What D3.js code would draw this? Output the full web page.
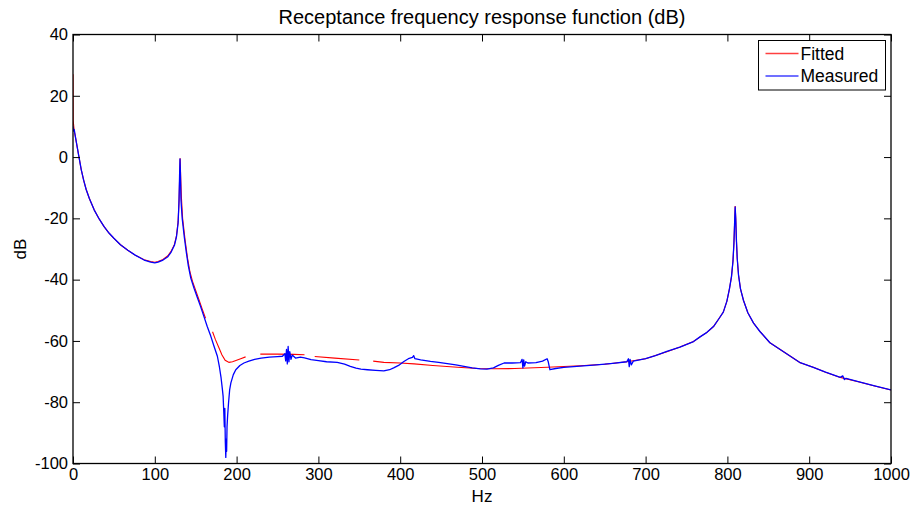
<!DOCTYPE html>
<html>
<head>
<meta charset="utf-8">
<script src="https://cdn.jsdelivr.net/npm/d3@7"></script>
<style>
  body { margin: 0; background: #fff; }
  text { font-family: "Liberation Sans", Arial, Helvetica, sans-serif; fill: #000; }
</style>
</head>
<body>
<div id="container"></div>
<script>
/**
 * CONSTANTS AND GLOBALS
 * */
const width = 912,
  height = 509,
  margin = {top: 34.5, bottom: 45.5, left: 73, right: 21};

const xTicks = [0, 100, 200, 300, 400, 500, 600, 700, 800, 900, 1000];
const yTicks = [-100, -80, -60, -40, -20, 0, 20, 40];
const seriesNames = ["Fitted", "Measured"];
const seriesColors = ["#ff0000", "#0000ff"];
const legendColors = ["#ff4040", "#4040ff"];

// measured FRF (Hz, dB)
const measHz = [0, 0.5, 1.5, 3, 5, 7, 10, 13, 16, 20, 26, 32, 38, 44, 50, 58, 67, 76, 87, 95,
  100, 104, 110, 116, 120, 124, 126.5, 128.5, 129.5, 130.3, 130.8, 131.3, 132, 133.5, 136, 138.5,
  141, 144, 148, 152, 156, 160, 164, 168.5, 172.5, 176.5, 179, 181, 182.5, 183.5, 184.3, 185,
  185.6, 186.2, 186.8, 187.3, 187.8, 188.3, 189, 190.2, 191.5, 193, 196, 199, 204, 209, 215,
  222, 230, 240, 250, 256, 259, 260, 261, 262, 263, 264, 265, 266.5, 268, 272, 278, 283, 291,
  300, 310, 323, 332, 339, 346, 352, 360, 370, 380, 387, 392, 398, 404.5, 410, 415, 416.5, 418,
  425, 437, 447, 457.5, 468, 478, 488, 498, 506, 514, 520, 527, 537, 547, 549, 550, 551, 552,
  553.5, 556, 566, 574, 579.6, 581, 583, 590, 600, 620, 640, 660, 677, 679, 680, 681, 682.5,
  685, 700, 712, 726, 742, 758.6, 767, 775, 783, 790, 795, 799.4, 802.5, 805, 806.8, 808, 809,
  809.5, 810.2, 811, 812, 813.6, 816, 819.7, 825, 832, 840, 852, 864.5, 877, 889, 905, 920,
  938, 941, 943, 945, 960, 980, 1000];
const measDb = [10, 8.5, 9, 6.5, 3.5, 0.5, -4, -7.5, -10.5, -13.5, -17.3, -20.2, -22.7, -24.8,
  -26.5, -28.6, -30.4, -32, -33.6, -34.3, -34.5, -34.3, -33.6, -32.5, -31, -28.8, -26, -21.5,
  -15, -6, -0.6, -5, -14, -20, -26, -31, -35.5, -39.5, -42.8, -45.8, -48.8, -52, -55.2, -58.5,
  -61.8, -65, -68.5, -72, -75.5, -78, -83, -88, -82, -93, -98, -92, -96, -88, -84.5, -80, -76,
  -73.7, -71, -69.4, -68, -67.2, -66.6, -66, -65.6, -65.3, -65.1, -65, -64.2, -66.5, -62.8,
  -67.5, -61.8, -66.8, -63.5, -66, -64.6, -65.6, -65.3, -65.5, -66.1, -66.4, -66.8, -67, -67.6,
  -68.3, -68.9, -69.2, -69.4, -69.6, -69.8, -69.4, -68.8, -68, -66.7, -65.8, -65.4, -64.8,
  -65.8, -66.2, -66.7, -67, -67.4, -67.8, -68.3, -68.8, -69.1, -69.2, -68.8, -68, -67.2, -67.2,
  -67.1, -66, -68.8, -66.2, -68.2, -66.8, -67.2, -67.1, -66.6, -65.8, -66.8, -69.4, -69, -68.6,
  -68.2, -67.8, -67.3, -66.8, -65.8, -68.4, -66, -67.8, -66.6, -65.8, -64.8, -63.4, -62, -60.2,
  -58.6, -57.2, -55.3, -52.6, -50.6, -47, -43, -39, -34, -28, -20, -16.3, -20, -27, -33, -38.5,
  -43, -46.8, -50.8, -54.2, -57, -60.6, -62.8, -65, -67.1, -68.6, -70.2, -71.9, -71.4, -72.6,
  -72.2, -73.3, -74.7, -76];

// fitted FRF (Hz, dB); null marks the breaks in the red curve
const fitHz = [0, 0.2, 1.5, 3, 5, 7, 10, 13, 16, 20, 26, 32, 38, 44, 50, 58, 67, 76, 87, 95,
  100, 104, 110, 116, 120, 124, 126.5, 128.5, 129.7, 130.5, 131, 131.6, 132.5, 134, 137, 140,
  143, 146, 150, 154, 158, 162, 166, 170.6, 174, 178, 182, 186, 190.8, 195, 200, 205, 211, 220,
  229, 250, 270, 283, 289, 295.5, 320, 350, 358, 367, 380, 400, 417, 440, 470, 495, 514, 540,
  580, 620, 650, 677, 700, 726, 742, 758.6, 767, 775, 783, 790, 795, 799.4, 802.5, 805, 806.8,
  808, 809, 809.5, 810.2, 811, 812, 813.6, 816, 819.7, 825, 832, 840, 852, 864.5, 877, 889, 905,
  920, 938, 960, 980, 1000];
const fitDb = [27, 12, 8.5, 6.5, 3.5, 0.5, -4, -7.5, -10.5, -13.5, -17.3, -20.2, -22.7, -24.8,
  -26.5, -28.6, -30.4, -32, -33.5, -34.1, -34.3, -34.1, -33.4, -32.2, -30.7, -28.5, -25.7,
  -21, -14, -5, -0.4, -6, -13, -20, -27, -33, -37.5, -40.5, -43.5, -46.5, -49.6, -52.6, null,
  -57, -59.5, -62, -64.5, -66.3, -67, -66.8, -66.3, -65.8, -65.2, null, -64.3, -64.3, -64.4,
  -64.5, null, -65.1, -65.6, -66.2, null, -66.6, -67, -67.2, -67.5, -68, -68.6, -69, -69.1, -69,
  -68.6, -68.1, -67.6, -66.8, -65.8, -63.5, -62, -60.2, -58.6, -57.2, -55.3, -52.6, -50.6, -47,
  -43, -39, -34, -28, -20, -16, -20, -27, -33, -38.5, -43, -46.8, -50.8, -54.2, -57, -60.6,
  -62.8, -65, -67.1, -68.6, -70.2, -71.9, -73.3, -74.7, -76];

/**
 * APPLICATION STATE
 * */
let state = {
  measured: measHz.map((f, i) => ({f: f, db: measDb[i]})),
  fitted: fitHz.map((f, i) => ({f: f, db: fitDb[i]}))
};

init();

/**
 * INITIALIZING FUNCTION
 * */
function init() {
  const svg = d3.select("#container")
    .append("svg")
    .attr("width", width)
    .attr("height", height);

  const innerW = width - margin.left - margin.right,
    innerH = height - margin.top - margin.bottom;

  const xScale = d3.scaleLinear().domain([0, 1000]).range([margin.left, margin.left + innerW]);
  const yScale = d3.scaleLinear().domain([-100, 40]).range([margin.top + innerH, margin.top]);

  svg.append("clipPath").attr("id", "plotclip")
    .append("rect")
    .attr("x", margin.left).attr("y", margin.top)
    .attr("width", innerW).attr("height", innerH);

  const line = d3.line()
    .defined(d => d.db !== null)
    .x(d => xScale(d.f))
    .y(d => yScale(d.db));

  const plot = svg.append("g").attr("clip-path", "url(#plotclip)");

  plot.append("path")
    .datum(state.fitted)
    .attr("fill", "none")
    .attr("stroke", seriesColors[0])
    .attr("stroke-width", 1.1)
    .attr("d", line);

  plot.append("path")
    .datum(state.measured)
    .attr("fill", "none")
    .attr("stroke", seriesColors[1])
    .attr("stroke-width", 1.3)
    .attr("stroke-linejoin", "round")
    .attr("d", line);

  // axes, ticks inside on all four sides; plain hyphen minus like the original
  const fmt = d => String(d);
  const bottom = svg.append("g")
    .attr("transform", `translate(0,${margin.top + innerH})`)
    .call(d3.axisBottom(xScale).tickValues(xTicks).tickSizeInner(-7).tickSizeOuter(0).tickPadding(5).tickFormat(fmt));
  svg.append("g")
    .attr("transform", `translate(0,${margin.top})`)
    .call(d3.axisTop(xScale).tickValues(xTicks).tickSizeInner(-7).tickSizeOuter(0).tickFormat(""));
  const left = svg.append("g")
    .attr("transform", `translate(${margin.left},0)`)
    .call(d3.axisLeft(yScale).tickValues(yTicks).tickSizeInner(-7).tickSizeOuter(0).tickPadding(5).tickFormat(fmt));
  svg.append("g")
    .attr("transform", `translate(${margin.left + innerW},0)`)
    .call(d3.axisRight(yScale).tickValues(yTicks).tickSizeInner(-7).tickSizeOuter(0).tickFormat(""));

  svg.selectAll(".domain").remove();
  svg.selectAll(".tick line").attr("stroke", "#000");
  bottom.selectAll("text").style("font-size", "16.5px").attr("fill", "#000");
  left.selectAll("text").style("font-size", "16.5px").attr("fill", "#000");

  svg.append("rect")
    .attr("x", margin.left).attr("y", margin.top)
    .attr("width", innerW).attr("height", innerH)
    .attr("fill", "none")
    .attr("stroke", "#000")
    .attr("stroke-width", 1.3);

  // title and axis labels
  svg.append("text")
    .attr("x", margin.left + innerW / 2).attr("y", 24)
    .attr("text-anchor", "middle")
    .style("font-size", "20px")
    .text("Receptance frequency response function (dB)");

  svg.append("text")
    .attr("x", margin.left + innerW / 2).attr("y", 502)
    .attr("text-anchor", "middle")
    .style("font-size", "17px")
    .text("Hz");

  svg.append("text")
    .attr("transform", `translate(26,${margin.top + innerH / 2}) rotate(-90)`)
    .attr("text-anchor", "middle")
    .style("font-size", "17px")
    .text("dB");

  draw(svg);
}

/**
 * DRAW FUNCTION (legend)
 * */
function draw(svg) {
  const legend = svg.append("g").attr("transform", "translate(758.5,40.5)");
  legend.append("rect")
    .attr("width", 127).attr("height", 49.5)
    .attr("fill", "#fff")
    .attr("stroke", "#000")
    .attr("stroke-width", 1);

  seriesNames.forEach((name, i) => {
    const y = 13 + i * 22.5;
    legend.append("path")
      .attr("d", `M7,${y}H40`)
      .attr("fill", "none")
      .style("stroke", legendColors[i])
      .style("stroke-width", "1.5px");
    legend.append("text")
      .attr("x", 42).attr("y", y)
      .attr("dy", "0.35em")
      .style("font-size", "17.5px")
      .text(name);
  });
}
</script>
</body>
</html>
